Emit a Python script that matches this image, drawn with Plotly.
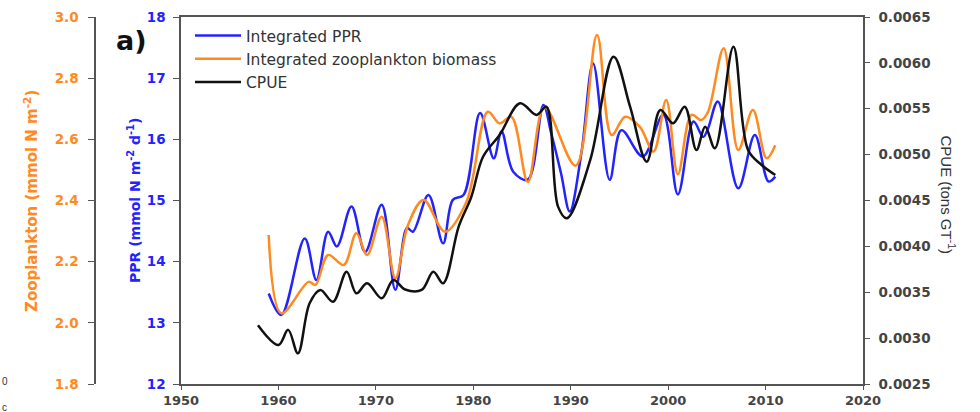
import plotly.graph_objects as go

# ---- data ----
ppr_years = [1959.0, 1960.3, 1962.7, 1963.9, 1965.1, 1966.0, 1967.5, 1968.9, 1970.6, 1972.0,
             1973.2, 1973.8, 1975.4, 1976.9, 1977.9, 1979.0, 1980.7, 1982.1, 1982.9, 1984.1,
             1985.6, 1987.2, 1988.0, 1989.0, 1989.9, 1991.1, 1992.3, 1994.0, 1995.2, 1997.4,
             1999.5, 2001.0, 2002.6, 2003.6, 2004.1, 2005.1, 2007.2, 2008.9, 2010.3, 2011.0]
ppr_values = [13.48, 13.13, 14.38, 13.70, 14.49, 14.25, 14.90, 14.16, 14.93, 13.54,
              14.55, 14.49, 15.09, 14.30, 15.01, 15.09, 16.43, 15.69, 16.13, 15.47,
              15.34, 16.56, 16.10, 15.45, 14.82, 15.78, 17.24, 15.34, 16.15, 15.72,
              16.40, 15.10, 16.29, 16.04, 16.18, 16.62, 15.20, 16.07, 15.31, 15.39]

zoo_years = [1959.0, 1960.3, 1963.1, 1963.8, 1965.1, 1966.7, 1968.0, 1969.1, 1970.6, 1972.0,
             1973.3, 1974.9, 1977.1, 1979.3, 1981.5, 1982.7, 1983.9, 1985.6, 1987.3, 1990.5,
             1992.7, 1994.2, 1995.6, 1997.1, 1998.5, 1999.8, 2001.0, 2002.4, 2003.4, 2004.1,
             2005.7, 2007.2, 2008.7, 2010.1, 2011.0]
zoo_values = [2.287, 2.031, 2.134, 2.124, 2.222, 2.189, 2.293, 2.222, 2.347, 2.146,
              2.320, 2.402, 2.298, 2.396, 2.690, 2.652, 2.674, 2.461, 2.705, 2.514,
              2.941, 2.614, 2.674, 2.641, 2.560, 2.729, 2.486, 2.680, 2.663, 2.690,
              2.898, 2.565, 2.696, 2.538, 2.581]

cpue_years = [1957.9, 1960.0, 1961.0, 1962.0, 1963.2, 1964.3, 1965.6, 1967.0, 1968.0, 1969.1,
              1970.6, 1971.8, 1973.0, 1974.7, 1975.9, 1976.9, 1978.5, 1979.8, 1981.0, 1982.7,
              1984.8, 1986.5, 1987.5, 1988.7, 1989.6, 1992.0, 1994.4, 1996.1, 1997.8, 1999.2,
              2000.5, 2001.7, 2002.9, 2003.8, 2004.8, 2006.7, 2008.2, 2009.6, 2011.0]
cpue_values = [0.00314, 0.002925, 0.00309, 0.002834, 0.00338, 0.003525, 0.003397, 0.003724, 0.003488, 0.003597,
               0.003434, 0.003634, 0.00353, 0.003525, 0.003724, 0.003597, 0.004215, 0.004541, 0.004977, 0.005214,
               0.005559, 0.005432, 0.005522, 0.004433, 0.004306, 0.00494, 0.006067, 0.00552, 0.004923, 0.005486,
               0.005341, 0.005522, 0.00505, 0.005304, 0.005069, 0.006176, 0.00505, 0.004887, 0.004778]

x_ticks = [1950, 1960, 1970, 1980, 1990, 2000, 2010, 2020]
ppr_ticks = [12, 13, 14, 15, 16, 17, 18]
zoo_ticks = [1.8, 2.0, 2.2, 2.4, 2.6, 2.8, 3.0]
cpue_ticks = [0.0025, 0.0030, 0.0035, 0.0040, 0.0045, 0.0050, 0.0055, 0.0060, 0.0065]

# ---- styling ----
BLUE = "#2323ff"
ORANGE = "#ff8a1f"
BLACK = "#111111"
AXIS = "#555555"
GREY_TXT = "#444444"
FONT = "Liberation Sans, Arial, sans-serif"
WIDE = "DejaVu Sans, Liberation Sans, sans-serif"

W, H = 980, 412
ML, MR, MT, MB = 10, 10, 17, 28
pw = W - ML - MR
ph = H - MT - MB


def px_x(x):
    return (x - ML) / pw


def px_y(y):
    return 1 - (y - MT) / ph


fig = go.Figure()
fig.add_trace(go.Scatter(x=ppr_years, y=ppr_values, mode="lines", name="Integrated PPR",
                         line=dict(color=BLUE, width=2.5, shape="spline", smoothing=1.0),
                         yaxis="y", legendgroup="a"))
fig.add_trace(go.Scatter(x=zoo_years, y=zoo_values, mode="lines", name="Integrated zooplankton biomass",
                         line=dict(color=ORANGE, width=2.5, shape="spline", smoothing=1.0),
                         yaxis="y2", legendgroup="b"))
fig.add_trace(go.Scatter(x=cpue_years, y=cpue_values, mode="lines", name="CPUE",
                         line=dict(color=BLACK, width=2.5, shape="spline", smoothing=1.0),
                         yaxis="y3", legendgroup="c"))

x0, x1 = px_x(181), px_x(863)

common = dict(showgrid=False, zeroline=False, showline=True, linecolor=AXIS, linewidth=1.5,
              ticks="outside", tickcolor=AXIS, automargin=False)

fig.update_layout(
    width=W, height=H,
    margin=dict(l=ML, r=MR, t=MT, b=MB, autoexpand=False),
    paper_bgcolor="white", plot_bgcolor="white",
    font=dict(family=FONT, size=13, color="#333"),
    showlegend=True,
    legend=dict(x=px_x(190), y=px_y(19), xanchor="left", yanchor="top",
                bgcolor="rgba(0,0,0,0)", font=dict(family=WIDE, size=15.5, color="#333"),
                itemwidth=46, traceorder="grouped", tracegroupgap=0),
    xaxis=dict(domain=[x0, x1], range=[1950, 2020], tickvals=x_ticks, mirror=True,
               ticklen=4, tickfont=dict(family=WIDE, size=13, color=GREY_TXT, weight="bold"),
               **common),
    yaxis=dict(range=[12, 18], tickvals=ppr_ticks, ticklen=6, ticklabelstandoff=5,
               tickfont=dict(family=WIDE, size=13.5, color=BLUE, weight="bold"), **common),
    yaxis2=dict(range=[1.8, 3.0], tickvals=zoo_ticks, tickformat=".1f", overlaying="y",
                side="left", anchor="free", position=px_x(95), ticklen=6, ticklabelstandoff=7,
                tickfont=dict(family=WIDE, size=13.5, color=ORANGE, weight="bold"), **common),
    yaxis3=dict(range=[0.0025, 0.0065], tickvals=cpue_ticks, tickformat=".4f", overlaying="y",
                side="right", anchor="x", ticklen=5, ticklabelstandoff=6,
                tickfont=dict(family=WIDE, size=13.5, color=GREY_TXT, weight="bold"), **common),
)

fig.add_annotation(x=px_x(19), y=px_y(201), xref="paper", yref="paper", yanchor="middle",
                   text="Zooplankton (mmol N m<sup>-2</sup>)", textangle=-90, showarrow=False,
                   font=dict(family=WIDE, size=15, color=ORANGE, weight="bold"))
fig.add_annotation(x=px_x(123), y=px_y(201), xref="paper", yref="paper", yanchor="middle",
                   text="PPR (mmol N m<sup>-2</sup> d<sup>-1</sup>)", textangle=-90, showarrow=False,
                   font=dict(family=WIDE, size=14, color=BLUE, weight="bold"))
fig.add_annotation(x=px_x(960), y=px_y(195), xref="paper", yref="paper", yanchor="middle",
                   text="CPUE (tons GT<sup>-1</sup>)", textangle=90, showarrow=False,
                   font=dict(family=FONT, size=15, color="#333"))
fig.add_annotation(x=px_x(114), y=px_y(41), xref="paper", yref="paper",
                   xanchor="left", yanchor="middle",
                   text="<b>a)</b>", showarrow=False,
                   font=dict(family=WIDE, size=27, color="#111"))
# stray cropped glyphs at the left edge of the reference image
fig.add_annotation(x=px_x(0), y=px_y(381), xref="paper", yref="paper",
                   xanchor="left", yanchor="middle",
                   text="0", showarrow=False, font=dict(family=FONT, size=10, color="#333"))
fig.add_annotation(x=px_x(0), y=px_y(407), xref="paper", yref="paper",
                   xanchor="left", yanchor="middle",
                   text="c", showarrow=False, font=dict(family=FONT, size=10, color="#333"))

fig.write_html("out.html")
